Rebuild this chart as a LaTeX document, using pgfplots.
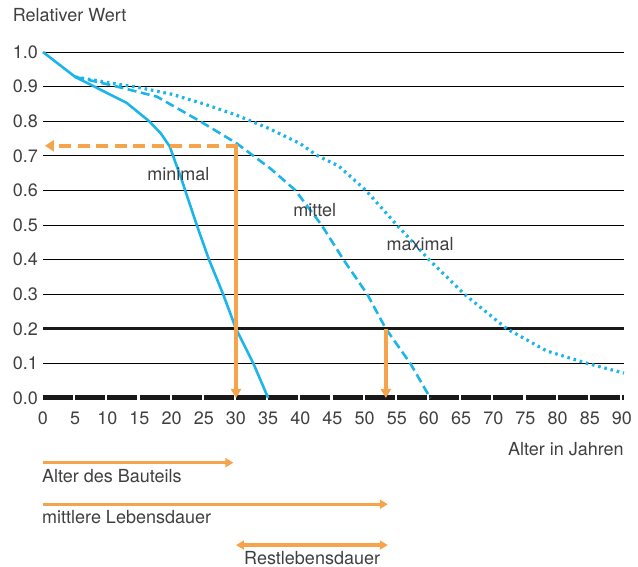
\documentclass[border=0pt]{standalone}
\usepackage{fontspec}
\setmainfont{TeX Gyre Heros}
\usepackage{pgfplots}
\pgfplotsset{compat=1.18}
\usetikzlibrary{arrows.meta}
\definecolor{cy}{HTML}{1CB5EA}
\definecolor{org}{HTML}{F6A44C}
\definecolor{txt}{HTML}{404040}
\begin{document}
\fontsize{18}{21}\selectfont
\begin{tikzpicture}[x=1pt,y=1pt]
\path[use as bounding box] (-43,-169) rectangle (595,398);
\begin{axis}[
  at={(0,0)}, anchor=south west,
  scale only axis, width=580.9pt, height=346pt,
  xmin=0, xmax=90.3, ymin=0, ymax=1,
  clip=false,
  axis line style={draw=none},
  major tick length=0pt,
  /pgf/number format/assume math mode=true,
  xtick={0,5,10,15,20,25,30,35,40,45,50,55,60,65,70,75,80,85,90},
  ytick={0,0.1,0.2,0.3,0.4,0.5,0.6,0.7,0.8,0.9,1.0},
  yticklabel style={/pgf/number format/.cd, fixed, fixed zerofill, precision=1, /tikz/.cd, anchor=east, inner sep=0pt, xshift=-5pt, text=txt},
  xticklabel style={anchor=base, yshift=-27pt, inner sep=0pt, text=txt},
]
% grid lines
\foreach \yy in {0.1,0.3,0.4,0.5,0.6,0.7,0.8,0.9,1.0} {
  \edef\tmp{\noexpand\draw[black, line width=0.9pt] (axis cs:0,\yy) -- (axis cs:90.3,\yy);}
  \tmp
}
\draw[black!90, line width=3pt] (axis cs:0,0.2) -- (axis cs:90.3,0.2);
\draw[black!90, line width=5pt, dash pattern=on 30pt off 2.17pt] (axis cs:0,0) -- (axis cs:90.3,0);

% curves
\addplot[cy, line width=2.6pt, line join=round, mark=none] coordinates {
 (0,1.0) (5,0.928) (13,0.853) (16.5,0.80) (18.3,0.765) (19.7,0.727) (20.6,0.68) (21.4,0.64) (22.1,0.6) (23.9,0.5) (25.8,0.4) (28,0.3) (30,0.2) (32.7,0.1) (35,0.0)
};
\addplot[cy, line width=2.6pt, line join=round, mark=none, dash pattern=on 9pt off 4.5pt] coordinates {
 (5,0.928) (10.4,0.905) (17.7,0.871) (24.4,0.80) (30.1,0.736) (35.3,0.664) (39.2,0.601) (43.3,0.5) (46.7,0.4) (50.4,0.3) (53.3,0.2) (57.1,0.1) (60.2,0.0)
};
\addplot[cy, line width=3.2pt, mark=none, dash pattern=on 2.6pt off 3.8pt] coordinates {
 (5,0.928) (10,0.912) (15,0.897) (20,0.878) (25,0.85) (30,0.818) (35,0.78) (40,0.735) (42.5,0.702) (46,0.67) (50.2,0.60) (55,0.50) (60,0.40) (65.5,0.30) (72.1,0.20) (78.3,0.136) (84.6,0.10) (90.3,0.072)
};

% orange arrows in plot
\draw[org, line width=3.5pt, -{Triangle[length=9pt,width=10pt]}] (axis cs:30,0.735) -- (axis cs:30,0.0);
\draw[org, line width=4pt, dash pattern=on 12pt off 6.5pt, -{Triangle[length=9pt,width=11pt]}] (axis cs:30.27,0.729) -- (axis cs:0.3,0.729);
\draw[org, line width=3.5pt, -{Triangle[length=9pt,width=10pt]}] (axis cs:53.3,0.2) -- (axis cs:53.3,0.0);

% curve labels
\node[anchor=base west, inner sep=0pt, text=txt] at (axis cs:16.2,0.630) {minimal};
\node[anchor=base west, inner sep=0pt, text=txt] at (axis cs:38.9,0.526) {mittel};
\node[anchor=base west, inner sep=0pt, text=txt] at (axis cs:53.4,0.425) {maximal};

% axis titles
\node[anchor=west, inner sep=0pt, text=txt] at (axis cs:-4.71,1.1055) {Relativer Wert};
\node[anchor=base east, inner sep=0pt, text=txt] at (axis cs:90.3,-0.1676) {Alter in Jahren};

% bottom explanation arrows
\draw[org, line width=3.3pt, -{Triangle[length=8pt,width=9pt]}] (axis cs:0,-0.187) -- (axis cs:29.6,-0.187);
\node[anchor=base west, inner sep=0pt, text=txt] at (axis cs:-0.16,-0.245) {Alter des Bauteils};
\draw[org, line width=3.3pt, -{Triangle[length=8pt,width=9pt]}] (axis cs:0,-0.307) -- (axis cs:53.6,-0.307);
\node[anchor=base west, inner sep=0pt, text=txt] at (axis cs:-0.16,-0.362) {mittlere Lebensdauer};
\draw[org, line width=3.3pt, {Triangle[length=8pt,width=9pt]}-{Triangle[length=8pt,width=9pt]}] (axis cs:30,-0.425) -- (axis cs:53.6,-0.425);
\node[anchor=base west, inner sep=0pt, text=txt] at (axis cs:31.25,-0.48) {Restlebensdauer};
\end{axis}
\end{tikzpicture}
\end{document}
